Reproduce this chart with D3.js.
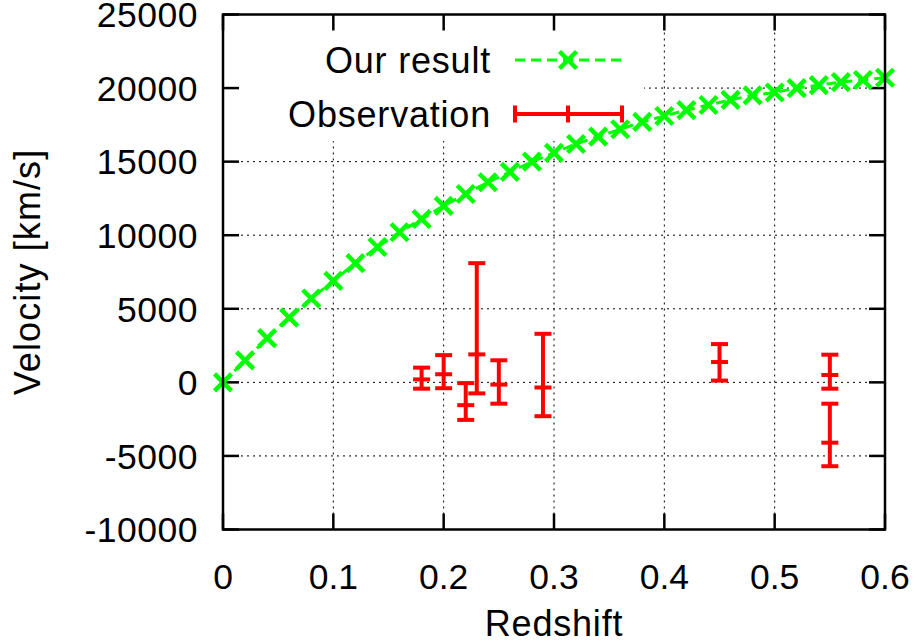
<!DOCTYPE html>
<html>
<head>
<meta charset="utf-8">
<script src="https://cdn.jsdelivr.net/npm/d3@7"></script>
<style>
  body { margin: 0; background: #fff; }
  text { font-family: "Liberation Sans", Arial, sans-serif; fill: #000; }
</style>
</head>
<body>
<div id="chart"></div>
<script>
// model curve (green)
const modelRedshift = [0, 0.02, 0.04, 0.06, 0.08, 0.1, 0.12, 0.14, 0.16, 0.18, 0.2,
    0.22, 0.24, 0.26, 0.28, 0.3, 0.32, 0.34, 0.36, 0.38, 0.4,
    0.42, 0.44, 0.46, 0.48, 0.5, 0.52, 0.54, 0.56, 0.58, 0.6]
const modelVelocity = [0, 1500, 3000, 4400, 5700, 6900, 8100, 9200, 10200, 11100, 12000,
    12800, 13600, 14300, 15000, 15600, 16200, 16700, 17200, 17700, 18100,
    18500, 18850, 19200, 19500, 19700, 20000, 20200, 20400, 20550, 20700]

// observations with error bars (red)
const obsRedshift = [0.18, 0.2, 0.22, 0.23, 0.25, 0.29, 0.45, 0.55, 0.55]
const obsVelocity = [200, 550, -1550, 1900, -150, -350, 1380, 500, -4100]
const obsLow = [-430, -400, -2550, -750, -1450, -2300, 120, -430, -5700]
const obsHigh = [1000, 1850, -50, 8100, 1500, 3300, 2600, 1880, -1450]

const xTicks = [0, 0.1, 0.2, 0.3, 0.4, 0.5, 0.6]
const yTicks = [-10000, -5000, 0, 5000, 10000, 15000, 20000, 25000]

const W = 921, H = 643
const pLeft = 223, pRight = 885, pTop = 14.5, pBottom = 529.5
const green = '#00ff00', red = '#ff0000'
const fs = 36, ls = 0.8

const svg = d3.select('#chart').append('svg')
    .attr('width', W).attr('height', H)

const x = d3.scaleLinear().domain([0, 0.6]).range([pLeft, pRight])
const y = d3.scaleLinear().domain([-10000, 25000]).range([pBottom, pTop])

// grid
svg.append('g').selectAll('line').data(xTicks.slice(1, -1)).join('line')
    .attr('x1', d => x(d)).attr('x2', d => x(d))
    .attr('y1', pTop).attr('y2', pBottom)
    .attr('stroke', '#000').attr('stroke-width', 1).attr('stroke-dasharray', '2,4')
svg.append('g').selectAll('line').data(yTicks.slice(1, -1)).join('line')
    .attr('x1', pLeft).attr('x2', pRight)
    .attr('y1', d => y(d)).attr('y2', d => y(d))
    .attr('stroke', '#000').attr('stroke-width', 1).attr('stroke-dasharray', '2,4')

// opaque key box hides the grid
svg.append('rect')
    .attr('x', pLeft + 1).attr('y', pTop + 1)
    .attr('width', 643 - pLeft).attr('height', 140 - pTop)
    .attr('fill', '#fff')

// ticks (inward, mirrored)
const tickLen = 16
const tk = svg.append('g').attr('stroke', '#000').attr('stroke-width', 2.5)
xTicks.forEach(d => {
    tk.append('line').attr('x1', x(d)).attr('x2', x(d)).attr('y1', pBottom).attr('y2', pBottom - tickLen)
    tk.append('line').attr('x1', x(d)).attr('x2', x(d)).attr('y1', pTop).attr('y2', pTop + tickLen)
})
yTicks.forEach(d => {
    tk.append('line').attr('x1', pLeft).attr('x2', pLeft + tickLen).attr('y1', y(d)).attr('y2', y(d))
    tk.append('line').attr('x1', pRight).attr('x2', pRight - tickLen).attr('y1', y(d)).attr('y2', y(d))
})

// tick labels
svg.append('g').selectAll('text').data(xTicks).join('text')
    .attr('x', d => x(d)).attr('y', 589)
    .attr('text-anchor', 'middle').attr('font-size', 35.5)
    .text(d => d)
svg.append('g').selectAll('text').data(yTicks).join('text')
    .attr('x', 198).attr('y', d => y(d)).attr('dy', '0.36em')
    .attr('text-anchor', 'end').attr('font-size', 35.5).attr('letter-spacing', 0.5)
    .text(d => d)

// axis titles
svg.append('text').attr('x', (pLeft + pRight) / 2).attr('y', 636)
    .attr('text-anchor', 'middle').attr('font-size', fs).attr('letter-spacing', ls).text('Redshift')
svg.append('text')
    .attr('transform', 'translate(40,272) rotate(-90)')
    .attr('text-anchor', 'middle').attr('font-size', fs).attr('letter-spacing', 1.1).text('Velocity [km/s]')

// model line + cross markers
const modelData = modelRedshift.map((z, i) => ({ z: z, v: modelVelocity[i] }))
svg.append('path').datum(modelData)
    .attr('fill', 'none').attr('stroke', green).attr('stroke-width', 3)
    .attr('stroke-dasharray', '10,6')
    .attr('d', d3.line().x(d => x(d.z)).y(d => y(d.v)))

function cross(g, cx, cy) {
    const s = 8.5
    g.append('path')
        .attr('d', 'M' + (cx - s) + ',' + (cy - s) + 'L' + (cx + s) + ',' + (cy + s) +
            'M' + (cx - s) + ',' + (cy + s) + 'L' + (cx + s) + ',' + (cy - s))
        .attr('stroke', green).attr('stroke-width', 4.5).attr('fill', 'none')
}
const mk = svg.append('g')
modelData.forEach(d => cross(mk, x(d.z), y(d.v)))

// error bars
const cap = 8.5
const eb = svg.append('g').attr('stroke', red).attr('stroke-width', 4).attr('fill', 'none')
obsRedshift.forEach((z, i) => {
    const cx = x(z)
    eb.append('line').attr('x1', cx).attr('x2', cx).attr('y1', y(obsLow[i])).attr('y2', y(obsHigh[i]))
    eb.append('line').attr('x1', cx - cap).attr('x2', cx + cap).attr('y1', y(obsLow[i])).attr('y2', y(obsLow[i]))
    eb.append('line').attr('x1', cx - cap).attr('x2', cx + cap).attr('y1', y(obsHigh[i])).attr('y2', y(obsHigh[i]))
    eb.append('line').attr('x1', cx - cap).attr('x2', cx + cap).attr('y1', y(obsVelocity[i])).attr('y2', y(obsVelocity[i]))
})

// legend
const lx1 = 515, lx2 = 622, lmid = 568
svg.append('text').attr('x', 491).attr('y', 60).attr('dy', '0.36em')
    .attr('text-anchor', 'end').attr('font-size', fs).attr('letter-spacing', ls).text('Our result')
svg.append('line').attr('x1', lx1).attr('x2', lx2).attr('y1', 60).attr('y2', 60)
    .attr('stroke', green).attr('stroke-width', 3).attr('stroke-dasharray', '10,6')
cross(svg, lmid, 60)

svg.append('text').attr('x', 491).attr('y', 114).attr('dy', '0.36em')
    .attr('text-anchor', 'end').attr('font-size', fs).attr('letter-spacing', ls).text('Observation')
const lg = svg.append('g').attr('stroke', red).attr('stroke-width', 4)
lg.append('line').attr('x1', lx1).attr('x2', lx2).attr('y1', 114).attr('y2', 114)
lg.append('line').attr('x1', lx1).attr('x2', lx1).attr('y1', 114 - cap).attr('y2', 114 + cap)
lg.append('line').attr('x1', lx2).attr('x2', lx2).attr('y1', 114 - cap).attr('y2', 114 + cap)
lg.append('line').attr('x1', lmid).attr('x2', lmid).attr('y1', 114 - cap).attr('y2', 114 + cap)

// frame on top
svg.append('rect')
    .attr('x', pLeft).attr('y', pTop)
    .attr('width', pRight - pLeft).attr('height', pBottom - pTop)
    .attr('fill', 'none').attr('stroke', '#000').attr('stroke-width', 2.5)
</script>
</body>
</html>
